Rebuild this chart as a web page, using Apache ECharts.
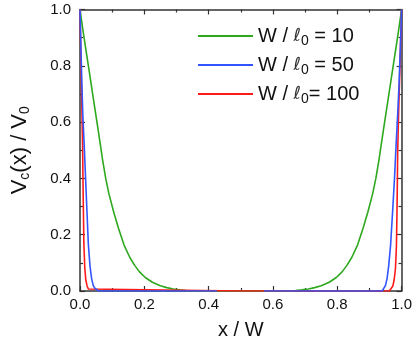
<!DOCTYPE html>
<html>
<head>
<meta charset="utf-8">
<script src="https://cdn.jsdelivr.net/npm/echarts@6/dist/echarts.min.js"></script>
<style>
  html, body { margin: 0; padding: 0; background: #fff; }
  #chart { width: 415px; height: 346px; }
</style>
</head>
<body>
<div id="chart"></div>
<script>
// values (x / W, Vc / V0)
var xTicks = [0.0, 0.2, 0.4, 0.6, 0.8, 1.0];
var yTicks = [0.0, 0.2, 0.4, 0.6, 0.8, 1.0];

var seriesNames = ['W / ℓ0 = 10', 'W / ℓ0 = 50', 'W / ℓ0= 100'];

var greenX = [0, 0.01, 0.02, 0.03, 0.04, 0.05, 0.064, 0.07, 0.08, 0.09, 0.105, 0.12, 0.137, 0.155, 0.17, 0.185, 0.203, 0.225, 0.25, 0.27, 0.29, 0.31, 0.33, 0.35, 0.38, 0.5,
              0.62, 0.65, 0.67, 0.69, 0.71, 0.73, 0.75, 0.775, 0.797, 0.815, 0.83, 0.845, 0.863, 0.88, 0.895, 0.91, 0.92, 0.93, 0.936, 0.95, 0.96, 0.97, 0.98, 0.99, 1.0];
var greenY = [1.0, 0.92, 0.845, 0.77, 0.695, 0.62, 0.515, 0.468, 0.40, 0.345, 0.28, 0.222, 0.163, 0.119, 0.091, 0.068, 0.048, 0.031, 0.019, 0.012, 0.007, 0.004, 0.002, 0.001, 0, 0,
              0, 0.001, 0.002, 0.004, 0.007, 0.012, 0.019, 0.031, 0.048, 0.068, 0.091, 0.119, 0.163, 0.222, 0.28, 0.345, 0.40, 0.468, 0.515, 0.62, 0.695, 0.77, 0.845, 0.92, 1.0];

var blueX = [0, 0.003, 0.006, 0.009, 0.013, 0.017, 0.021, 0.026, 0.031, 0.036, 0.041, 0.046, 0.051, 0.058, 0.2, 0.426, 0.5,
             0.572, 0.8, 0.94, 0.945, 0.95, 0.955, 0.96, 0.966, 0.972, 0.978, 0.983, 0.988, 0.992, 0.996, 1.0];
var blueY = [1.0, 0.86, 0.73, 0.62, 0.52, 0.41, 0.30, 0.165, 0.09, 0.045, 0.02, 0.01, 0.004, 0, 0, 0, null,
             0, 0, 0, 0.006, 0.02, 0.045, 0.09, 0.165, 0.28, 0.40, 0.52, 0.63, 0.73, 0.86, 1.0];

var redX = [0, 0.002, 0.004, 0.006, 0.008, 0.010, 0.012, 0.015, 0.018, 0.022, 0.026, 0.031, 0.5,
            0.962, 0.968, 0.973, 0.977, 0.981, 0.984, 0.986, 0.988, 0.991, 0.994, 0.997, 1.0];
var redY = [1.0, 0.88, 0.76, 0.64, 0.52, 0.33, 0.17, 0.08, 0.04, 0.018, 0.007, 0, 0,
            0, 0.006, 0.018, 0.04, 0.08, 0.16, 0.30, 0.50, 0.64, 0.76, 0.88, 1.0];

var colors = ['#2ea81e', '#3355ff', '#ff1a1a'];

function pairs(xs, ys) {
  var out = [];
  for (var i = 0; i < xs.length; i++) out.push([xs[i], ys[i]]);
  return out;
}

var font = 'Liberation Sans, Arial, sans-serif';
var axisColor = '#333';

function mkAxis(pos, showLabel, ticks) {
  return {
    type: 'value',
    position: pos,
    min: 0, max: 1, interval: 0.2,
    axisLine: { show: true, onZero: false, lineStyle: { color: axisColor, width: 1.5 } },
    axisTick: { show: true, inside: true, length: 5, lineStyle: { color: axisColor, width: 1.2 } },
    minorTick: { show: true, splitNumber: 2, length: 3, lineStyle: { color: axisColor, width: 1.2 } },
    splitLine: { show: false },
    axisLabel: {
      show: showLabel,
      color: '#111',
      fontFamily: font,
      fontSize: 15,
      formatter: function (v) {
        for (var i = 0; i < ticks.length; i++) if (Math.abs(ticks[i] - v) < 1e-6) return ticks[i].toFixed(1);
        return '';
      }
    }
  };
}

var xBottom = mkAxis('bottom', true, xTicks);
xBottom.axisLabel.margin = 6;
xBottom.name = 'x / W';
xBottom.nameLocation = 'middle';
xBottom.nameGap = 29;
xBottom.nameTextStyle = { fontFamily: font, fontSize: 20, color: '#111' };

var yLeft = mkAxis('left', true, yTicks);
yLeft.axisLabel.margin = 9;
yLeft.name = '{t|V}{s|c}{t|(x) / V}{s|0}';
yLeft.nameLocation = 'middle';
yLeft.nameRotate = 90;
yLeft.nameGap = 48;
yLeft.nameTextStyle = {
  fontFamily: font, fontSize: 22, color: '#111',
  rich: {
    t: { fontFamily: font, fontSize: 22, color: '#111', lineHeight: 24 },
    s: { fontFamily: font, fontSize: 14, color: '#111', lineHeight: 24, padding: [10, 0, 0, 0] }
  }
};

var chart = echarts.init(document.getElementById('chart'));
chart.setOption({
  animation: false,
  grid: { left: 72.7, right: 12.3, top: 9.5, bottom: 55, containLabel: false },
  legend: {
    orient: 'vertical',
    left: 198,
    top: 24,
    padding: 0,
    itemWidth: 55,
    itemHeight: 14,
    itemGap: 5,
    icon: 'path://M0,6 L55,6 L55,8 L0,8 Z',
    data: seriesNames,
    formatter: function (name) {
      return name.replace('ℓ0', '{l|ℓ}{s|0}').replace(/^(.*?)\{/, '{t|$1}{').replace(/\}([^{}]*)$/, '}{t|$1}');
    },
    textStyle: {
      fontFamily: font, fontSize: 20, color: '#111',
      rich: {
        t: { fontFamily: font, fontSize: 20, color: '#111', lineHeight: 21 },
        l: { fontFamily: 'DejaVu Sans', fontSize: 18, fontStyle: 'italic', color: '#333', lineHeight: 21 },
        s: { fontFamily: font, fontSize: 14, color: '#111', lineHeight: 21, padding: [10, 0, 0, 0] }
      }
    }
  },
  xAxis: [xBottom, mkAxis('top', false, xTicks)],
  yAxis: [yLeft, mkAxis('right', false, yTicks)],
  series: [
    { name: seriesNames[0], type: 'line', data: pairs(greenX, greenY), symbol: 'none', smooth: false,
      lineStyle: { color: colors[0], width: 1.6 }, itemStyle: { color: colors[0] } },
    { name: seriesNames[2], type: 'line', data: pairs(redX, redY), symbol: 'none', smooth: false,
      lineStyle: { color: colors[2], width: 1.6 }, itemStyle: { color: colors[2] } },
    { name: seriesNames[1], type: 'line', data: pairs(blueX, blueY), symbol: 'none', smooth: false, connectNulls: false,
      lineStyle: { color: colors[1], width: 1.6 }, itemStyle: { color: colors[1] } }
  ]
});
</script>
</body>
</html>
